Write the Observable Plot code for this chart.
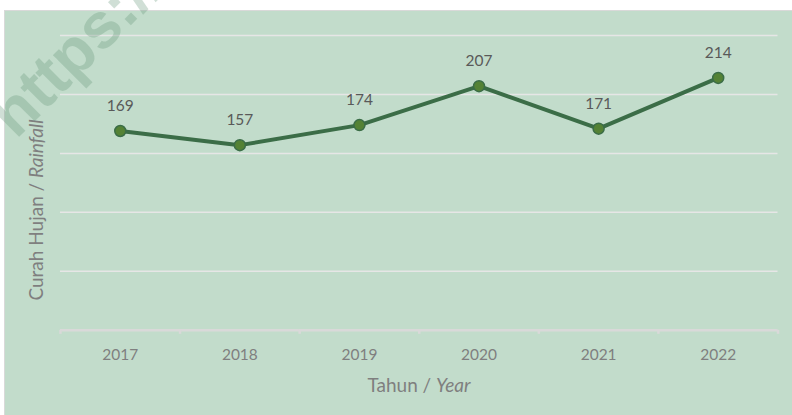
<!DOCTYPE html>
<html>
<head>
<meta charset="utf-8">
<script src="https://cdn.jsdelivr.net/npm/d3@7"></script>
<script src="https://cdn.jsdelivr.net/npm/@observablehq/plot@0.6"></script>
<style>
  html, body { margin: 0; padding: 0; background: #ffffff; }
  #page { position: relative; width: 792px; height: 415px; overflow: hidden; background: #ffffff; font-family: Lato, "Open Sans", sans-serif; }
  #title { position: absolute; left: 183px; top: -24px; font: bold 27px "Liberation Serif", serif; line-height: 1; color: #000; white-space: nowrap; }
  #panel { position: absolute; left: 4px; top: 10px; width: 788px; height: 405px; background: #c2dccb; box-sizing: border-box; border-left: 1.5px solid #d9d9d9; border-top: 1.5px solid #d9d9d9; }
  #chart { position: absolute; left: 0.5px; top: -0.5px; }
  #ytitle { position: absolute; left: 30px; top: 199px; transform: translate(-50%, -50%) rotate(-90deg); font-size: 19px; color: #7f7f7f; white-space: nowrap; }
  #xtitle { position: absolute; left: 414px; top: 373px; transform: translate(-50%, -50%); font-size: 19px; color: #7f7f7f; white-space: nowrap; }
  #wm { position: absolute; left: 0; top: 0; pointer-events: none; }
</style>
</head>
<body>
<div id="page">
  <div id="title">2022</div>
  <div id="panel">
    <div id="chart"></div>
    <div id="ytitle">Curah Hujan / <i>Rainfall</i></div>
    <div id="xtitle">Tahun / <i>Year</i></div>
  </div>
  <svg id="wm" width="792" height="415">
    <text x="16" y="140" transform="rotate(-45 16 140)" font-family="Liberation Sans, sans-serif" font-weight="bold" font-size="64" fill="rgb(100,150,120)" fill-opacity="0.3">https://</text>
  </svg>
</div>
<script>
const years = [2017, 2018, 2019, 2020, 2021, 2022];
const rainfall = [169, 157, 174, 207, 171, 214];
const gridValues = [50, 100, 150, 200, 250];
const yearBounds = [2016.5, 2017.5, 2018.5, 2019.5, 2020.5, 2021.5, 2022.5];

const data = years.map((year, i) => ({year, value: rainfall[i]}));

const chart = Plot.plot({
  width: 787,
  height: 405,
  marginLeft: 54,
  marginRight: 15,
  marginTop: 24,
  marginBottom: 86,
  style: { background: "transparent", fontFamily: "Lato, 'Open Sans', sans-serif", fontSize: "15.5px", color: "#7f7f7f", overflow: "visible" },
  x: { type: "linear", domain: [2016.5, 2022.5], axis: null },
  y: { domain: [0, 250], axis: null },
  marks: [
    Plot.ruleY(gridValues, { stroke: "#e6e6e6", strokeWidth: 1.5 }),
    Plot.ruleY([0], { stroke: "#d9d9d9", strokeWidth: 2.5 }),
    Plot.axisX({ ticks: yearBounds, tickSize: 4, tickFormat: () => "", stroke: "#d9d9d9", strokeWidth: 2.5, label: null }),
    Plot.axisX({ ticks: years, tickSize: 0, tickPadding: 19, tickFormat: d => String(d), fill: "#7f7f7f", label: null }),
    Plot.line(data, { x: "year", y: "value", stroke: "#3b6d47", strokeWidth: 4 }),
    Plot.dot(data, { x: "year", y: "value", r: 5.5, fill: "#548235", stroke: "#3b6d47", strokeWidth: 1.5 }),
    Plot.text(data, { x: "year", y: "value", text: d => String(d.value), dy: -25, fill: "#595959", fontSize: 15.5 })
  ]
});
document.getElementById("chart").appendChild(chart);
</script>
</body>
</html>
